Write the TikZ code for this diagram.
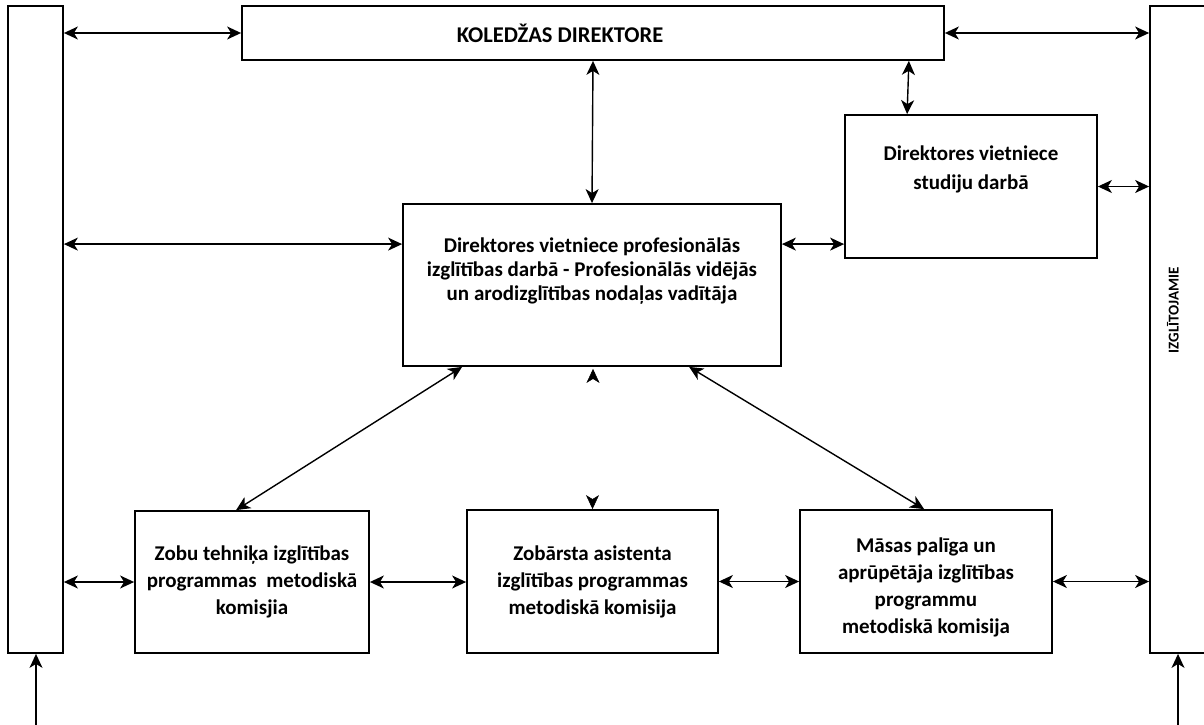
\documentclass[tikz,border=0pt]{standalone}
\usepackage{fontspec}
\setmainfont{Carlito}
\usetikzlibrary{arrows.meta,calc}
\tikzset{
  box/.style={draw, line width=1.8pt, inner sep=0pt, align=center,
    font=\bfseries\fontsize{21}{27}\selectfont},
  tipA/.tip={Stealth[length=14pt,width=13pt,inset=4pt]},
  arr/.style={tipA-tipA, line width=1.4pt},
  onearr/.style={-tipA, line width=1.4pt},
  headonly/.style={-{Stealth[length=14pt,width=13pt,inset=4pt,black]}, draw=white, line width=0.5pt}
}
\begin{document}
\begin{tikzpicture}[x=1pt,y=-1pt]
\clip (0,0) rectangle (1204,725);
% bars
\node[box, minimum width=55pt, minimum height=647pt] (lb) at (35.5,329.5) {};
\node[box, minimum width=70pt, minimum height=647pt] (rb) at (1185,329.5) {};
\node[font=\bfseries\fontsize{15}{18}\selectfont, rotate=90] (rbt) at (1173,310) {IZGLĪTOJAMIE};
% boxes
\node[box, minimum width=702pt, minimum height=54pt, font=\bfseries\fontsize{22.5}{24}\selectfont] (top) at (593,33) {KOLEDŽAS DIREKTORE\hspace*{66pt}};
\node[box, minimum width=378pt, minimum height=162pt, font=\bfseries\fontsize{21}{24}\selectfont] (main) at (592,285)
  {Direktores vietniece profesionālās\\izglītības darbā - Profesionālās vidējās\\un arodizglītības nodaļas vadītāja\\\strut};
\node[box, minimum width=252pt, minimum height=143pt, font=\bfseries\fontsize{21}{29}\selectfont] (stud) at (971,186.5)
  {Direktores vietniece\\studiju darbā\\\strut};
\node[box, minimum width=234pt, minimum height=142pt] (b1) at (252,582)
  {Zobu tehniķa izglītības\\programmas\ \ metodiskā\\komisjia};
\node[box, minimum width=251pt, minimum height=143pt] (b2) at (592.5,581.5)
  {Zobārsta asistenta\\izglītības programmas\\metodiskā komisija};
\node[box, minimum width=252pt, minimum height=143pt] (b3) at (926,581.5)
  {\rule{0pt}{26pt}Māsas palīga un\\aprūpētāja izglītības\\programmu\\metodiskā komisija};
% top row arrows
\draw[arr] (lb.east |- top.west) -- (top.west);
\draw[arr] (top.east) -- (top.east -| rb.west);
\draw[arr] (top.south) -- (main.north);
\coordinate (tsA) at ($(top.south east)+(-36,0)$);
\coordinate (snA) at ($(stud.north west)+(63,0)$);
\draw[arr] (tsA) -- (snA);
\draw[arr] (stud.east) -- (stud.east -| rb.west);
% middle row arrows
\coordinate (mL) at ($(main.north west)+(0,41)$);
\coordinate (mR) at ($(main.north east)+(0,41)$);
\draw[arr] (lb.east |- mL) -- (mL);
\draw[arr] (mR) -- (mR -| stud.west);
% diagonals
\coordinate (mS1) at ($(main.south west)+(60,0)$);
\coordinate (b1N) at ($(b1.north west)+(102,0)$);
\coordinate (mS3) at ($(main.south west)+(287,0)$);
\coordinate (b3N) at ($(b3.north west)+(125,0)$);
\draw[arr] (mS1) -- (b1N);
\draw[arr] (mS3) -- (b3N);
% detached arrowheads
\coordinate (mUp) at ($(main.south)+(1,2)$);
\coordinate (b2Dn) at ($(b2.north)+(0,0)$);
\draw[headonly] ($(mUp)+(0,10)$) -- (mUp);
\draw[headonly] ($(b2Dn)+(0,-10)$) -- (b2Dn);
% bottom row arrows
\draw[arr] (lb.east |- b1.west) -- (b1.west);
\draw[arr] (b1.east) -- (b2.west |- b1.east);
\draw[arr] (b2.east) -- (b3.west |- b2.east);
\draw[arr] (b3.east) -- (b3.east -| rb.west);
% inputs
\coordinate (inL) at (36,725);
\coordinate (inR) at (1178,725);
\draw[onearr] (inL) -- (inL |- lb.south);
\draw[onearr] (inR) -- (inR |- rb.south);
\end{tikzpicture}
\end{document}
